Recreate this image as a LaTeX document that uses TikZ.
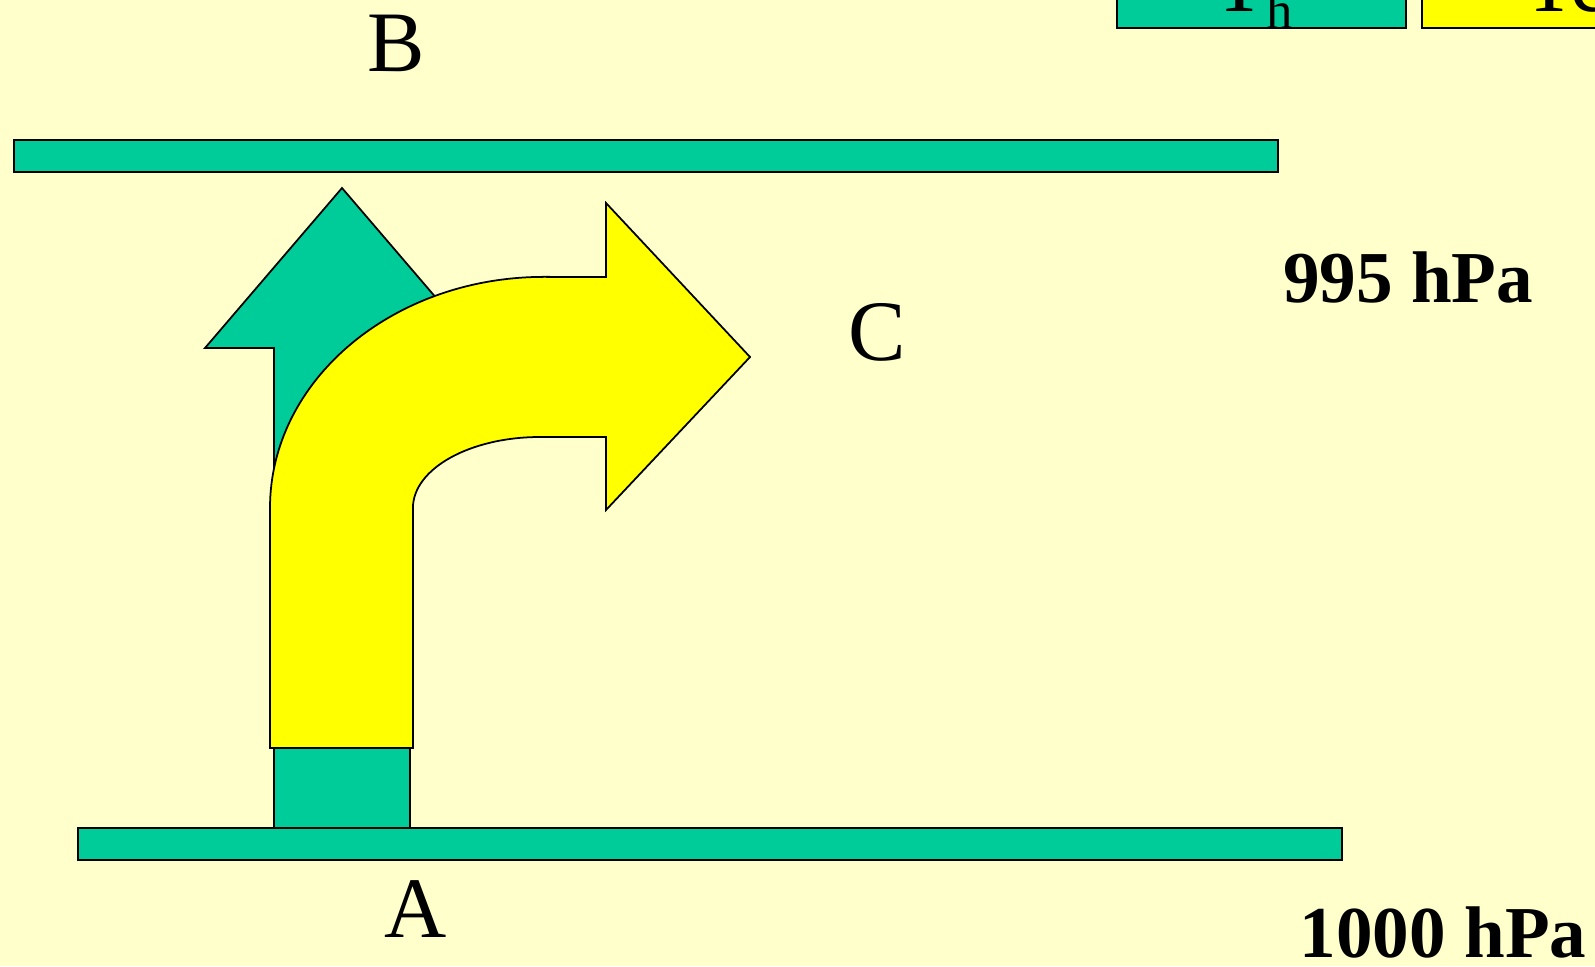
\documentclass[tikz,border=0pt]{standalone}
\usepackage{fontspec}
\setmainfont{Liberation Serif}
\usepackage{xcolor}
\definecolor{paper}{RGB}{255,255,204}
\definecolor{sea}{RGB}{0,204,153}
\definecolor{lemon}{RGB}{255,255,0}
\usepackage{tikz}
\usetikzlibrary{positioning}

\begin{document}
\begin{tikzpicture}[x=0.01cm, y=0.01cm, line join=miter]
\tikzset{bar/.style={draw, line width=0.65pt, fill=sea},
  flow/.style={draw, line width=0.5pt},
  lbl/.style={anchor=base, inner sep=0pt, font=\fontsize{24.5}{29}\selectfont},
  hpa/.style={anchor=base, inner sep=0pt, font=\fontsize{20.8}{25}\selectfont\bfseries}}
\clip (0,0) rectangle (1595,966);
\fill[paper] (0,0) rectangle (1595,966);
% level boxes
\draw[bar] (14,794) rectangle (1278,826);
\draw[bar] (78,106) rectangle (1342,138);
% key
\draw[bar] (1117,938) rectangle (1406,1040);
\draw[bar, fill=lemon] (1422,938) rectangle (1711,1040);
\node[lbl] (th) at (1253,954) {T\raisebox{-0.16cm}{\fontsize{15}{18}\selectfont h}};
\node[lbl] (tc) at (1566,954) {Tc};
% rising parcel
\draw[flow, fill=sea] (274,138) -- (274,618) -- (205,618) -- (342,778)
  -- (479,618) -- (410,618) -- (410,138) -- cycle;
% deflected parcel
\draw[flow, fill=lemon] (270,218) -- (270,458)
  arc[start angle=180, end angle=90, x radius=2.74cm, y radius=2.31cm]
  -- (606,689) -- (606,763) -- (750,609) -- (606,456) -- (606,529) -- (540,529)
  arc[start angle=90, end angle=180, x radius=1.27cm, y radius=0.71cm]
  -- (413,218) -- cycle;
\node[lbl] (b) at (396,894) {B};
\node[lbl] (c) at (877,606) {C};
\node[lbl] (a) at (416,29)  {A};
\node[hpa] (p995)  at (1408,663) {995 hPa};
\node[hpa] (p1000) at (1443,9)   {1000 hPa};
\end{tikzpicture}
\end{document}
